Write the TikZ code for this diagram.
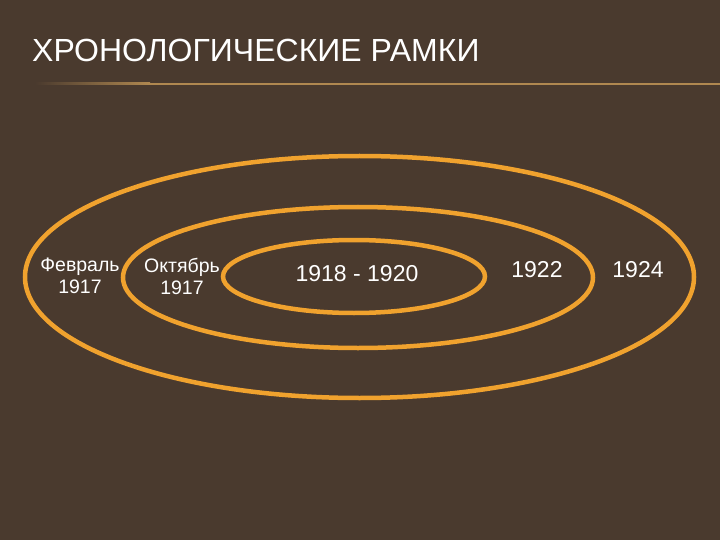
\documentclass[tikz,border=0pt]{standalone}
\usepackage{fontspec}
\setmainfont{Liberation Sans}
\usetikzlibrary{positioning}
\usetikzlibrary{shapes.geometric}
\definecolor{slidebg}{HTML}{4A3A2E}
\definecolor{ringorange}{HTML}{F0A22E}
\definecolor{rulegold}{HTML}{B08850}

\begin{document}
\begin{tikzpicture}[x=1pt, y=-1pt,
		ring/.style={draw=ringorange, line width=4.5pt, ellipse, inner sep=0pt},
		period/.style={text=white, align=center, font=\fontsize{19.5}{22}\selectfont},
		yearlabel/.style={text=white, font=\fontsize{23}{26}\selectfont}
		]
		
		\fill[slidebg] (0,0) rectangle (720,540);
		\useasboundingbox (0,0) rectangle (720,540);
		
		\node[anchor=base west, text=white, inner sep=0pt, font=\fontsize{32}{35}\selectfont] (title) at (32,62) {ХРОНОЛОГИЧЕСКИЕ РАМКИ};
		\shade[left color=slidebg, right color=rulegold] (35,83) rectangle (150,85);
		\fill[rulegold] (150,83) rectangle (720,85);
		
		\node[ring, minimum width=669pt, minimum height=242pt] (outer) at (359.5,277) {};
		\node[ring, minimum width=470pt, minimum height=141pt] (middle) at (358,277.5) {};
		\node[ring, minimum width=262pt, minimum height=73pt] (inner) at (354,276.5) {};
		
		\node[period] (feb) at (80,276) {Февраль\\1917};
		\node[period] (oct) at (182,276) {Октябрь\\1917};
		\node[yearlabel] (civil) at (357,274) {1918 - 1920};
		\node[yearlabel] (y22) at (537,270) {1922};
		\node[yearlabel] (y24) at (638,270) {1924};
	\end{tikzpicture}
\end{document}
